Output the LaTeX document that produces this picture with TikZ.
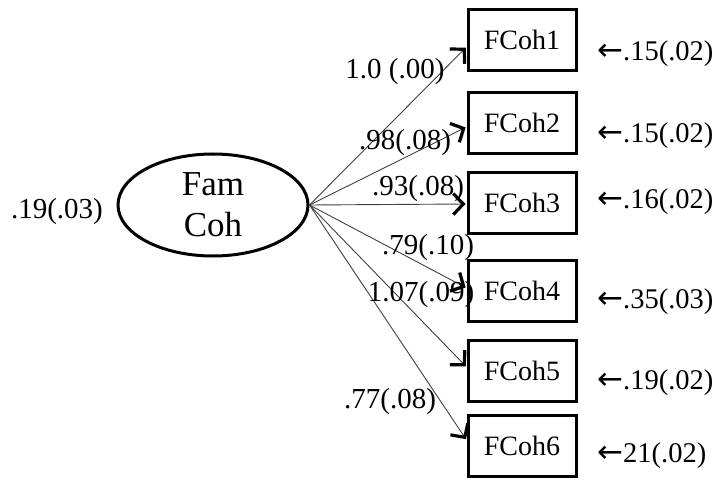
\documentclass[tikz,border=0pt]{standalone}
\usepackage{fontspec}
\setmainfont{Liberation Serif}
\newfontfamily\arrowfont{DejaVu Sans}
\newcommand{\larr}{{\arrowfont\fontsize{31}{31}\selectfont ←}}
\usetikzlibrary{arrows.meta,shapes.geometric}
\begin{document}
\begin{tikzpicture}[x=1pt,y=-1pt,
  every node/.style={font=\fontsize{29}{31}\selectfont, inner sep=0pt},
  latent/.style={ellipse, draw, line width=3pt, minimum width=190pt, minimum height=102pt,
    align=center, font=\fontsize{35}{41}\selectfont},
  indicator/.style={rectangle, draw, line width=3pt, minimum width=108pt, minimum height=61pt,
    font=\fontsize{28}{29}\selectfont},
  loading/.style={draw=black!75, line width=0.9pt, shorten >=1pt,
    -{Straight Barb[length=10pt,width=21pt,line width=3.2pt,color=black]}},
  coef/.style={},
  resid/.style={anchor=west, font=\fontsize{28.5}{31}\selectfont}]
\useasboundingbox (0,0) rectangle (723,481);

% latent factor and its variance
\node[latent] (f) at (213,205) {Fam\\Coh};
\node[coef] (fvar) at (57,212) {.19(.03)};

% observed indicators
\node[indicator] (b1) at (522,40)  {FCoh1};
\node[indicator] (b2) at (522,123) {FCoh2};
\node[indicator] (b3) at (522,203) {FCoh3};
\node[indicator] (b4) at (522,291) {FCoh4};
\node[indicator] (b5) at (522,371) {FCoh5};
\node[indicator] (b6) at (522,446) {FCoh6};

% factor loadings
\draw[loading] (f.east) -- ([yshift=-7pt]b1.west);
\draw[loading] (f.east) -- ([yshift=-4pt]b2.west);
\draw[loading] (f.east) -- ([yshift=-1pt]b3.west);
\draw[loading] (f.east) -- ([yshift=3pt]b4.west);
\draw[loading] (f.east) -- ([yshift=4pt]b5.west);
\draw[loading] (f.east) -- ([yshift=6pt]b6.west);

% loading estimates (standard errors)
\node[coef] (l1) at (395,72)  {1.0 (.00)};
\node[coef] (l2) at (405,143) {.98(.08)};
\node[coef] (l3) at (418,189) {.93(.08)};
\node[coef] (l4) at (428,248) {.79(.10)};
\node[coef] (l5) at (421,295) {1.07(.09)};
\node[coef] (l6) at (390,402) {.77(.08)};

% residual variances
\node[resid] (r1) at (597,54)  {\larr.15(.02)};
\node[resid] (r2) at (597,136) {\larr.15(.02)};
\node[resid] (r3) at (597,202) {\larr.16(.02)};
\node[resid] (r4) at (597,302) {\larr.35(.03)};
\node[resid] (r5) at (597,383) {\larr.19(.02)};
\node[resid] (r6) at (597,456) {\larr21(.02)};
\end{tikzpicture}
\end{document}
